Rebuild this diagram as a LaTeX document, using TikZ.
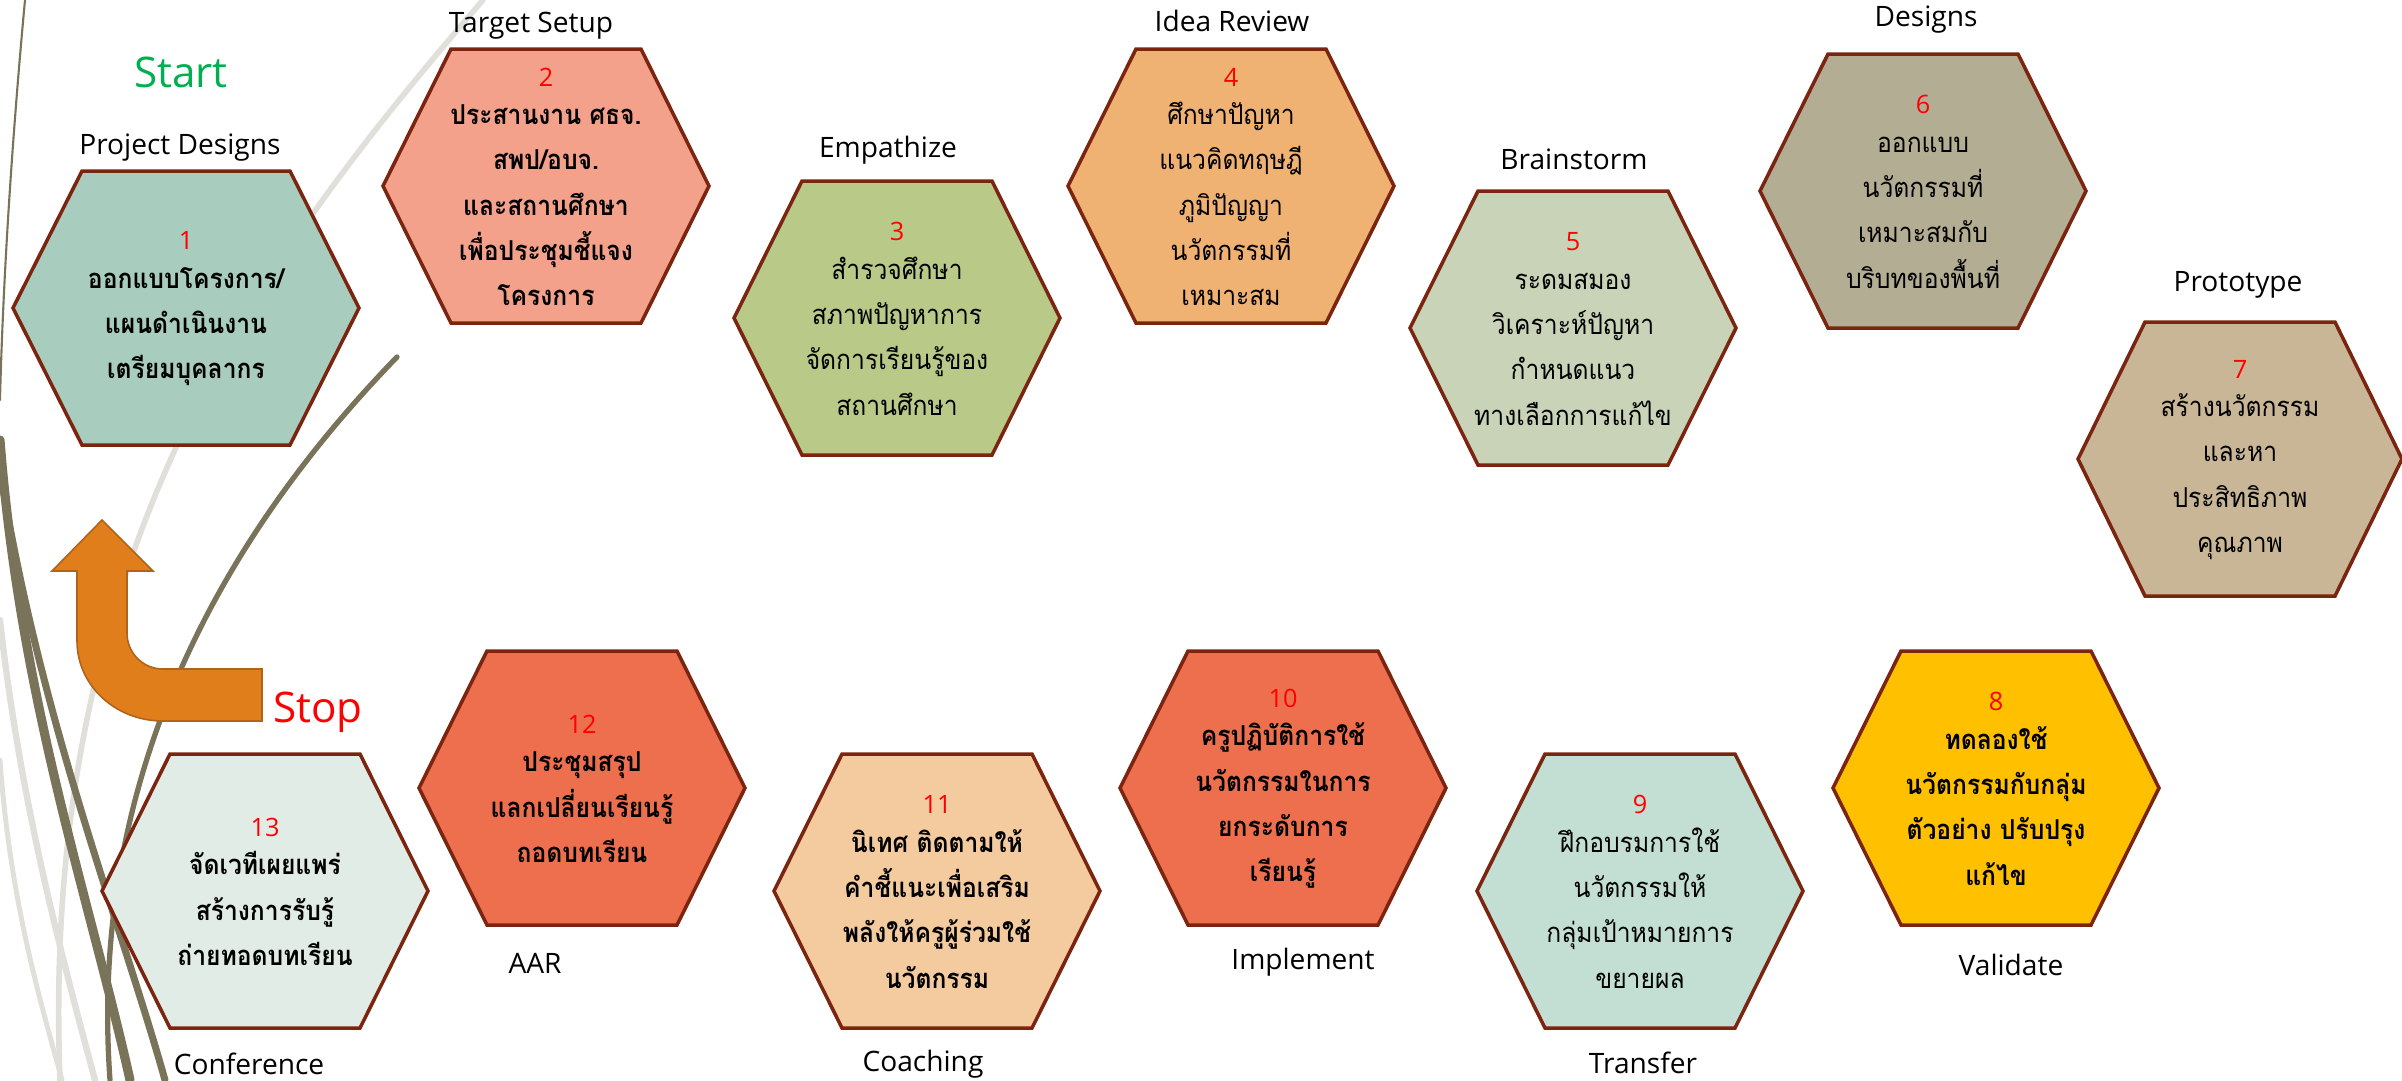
\documentclass[tikz,border=0pt]{standalone}
\usepackage{fontspec}
\setmainfont{Open Sans}
\newfontfamily\thaifont[Script=Thai, FakeStretch=0.9]{Loma}

\definecolor{edgecol}{HTML}{7B2511}
\definecolor{numred}{HTML}{FF0000}
\definecolor{startgreen}{HTML}{00B050}
\definecolor{olive}{HTML}{79735A}
\definecolor{wisp}{HTML}{E0DFD9}
\definecolor{arrowfill}{HTML}{DF7E1A}
\definecolor{arrowedge}{HTML}{B0631A}
\definecolor{cA}{HTML}{A8CDBF}
\definecolor{cB}{HTML}{F3A18A}
\definecolor{cC}{HTML}{B8C988}
\definecolor{cD}{HTML}{F0B273}
\definecolor{cE}{HTML}{C9D3B8}
\definecolor{cF}{HTML}{B3AD94}
\definecolor{cG}{HTML}{C8B696}
\definecolor{cH}{HTML}{FFC000}
\definecolor{cI}{HTML}{C3DFD4}
\definecolor{cJ}{HTML}{EE6F4D}
\definecolor{cK}{HTML}{F4CA9F}
\definecolor{cL}{HTML}{EE6F4D}
\definecolor{cM}{HTML}{E1ECE7}

\tikzset{
  hexshape/.style={draw=edgecol, line width=1pt, line join=miter},
  hextext/.style={align=center, text=black, inner sep=0pt,
    font=\thaifont\fontsize{7.8}{12.9}\selectfont},
  hexbold/.style={hextext, font=\thaifont\bfseries\fontsize{7.8}{12.9}\selectfont},
  steplabel/.style={text=black, inner sep=0pt, font=\fontsize{8}{10}\selectfont},
  bigword/.style={inner sep=0pt, font=\fontsize{12}{14}\selectfont},
  wispline/.style={draw=wisp, line cap=round},
  oliveline/.style={draw=olive, line cap=round},
}

% name, cx, cy, half width, half top edge, fill, text style, number, text
\newcommand\hexstep[9]{%
  \filldraw[hexshape, fill=#6] (#2-#4,#3) -- (#2-#5,#3-137) -- (#2+#5,#3-137)
    -- (#2+#4,#3) -- (#2+#5,#3+137) -- (#2-#5,#3+137) -- cycle;
  \node[#7] (#1) at (#2,#3+1) {{\normalfont\fontsize{7.2}{12.9}\selectfont\color{numred}#8}\\[-2pt]#9};
}

\begin{document}
\begin{tikzpicture}[x=0.1mm, y=-0.1mm]
\useasboundingbox (0,0) rectangle (2402,1080);

% background wisps
\draw[oliveline, line width=0.6pt] (25,0) .. controls (12,140) and (3,280) .. (0,400);
\draw[wispline, line width=1.6pt] (483,0) .. controls (250,270) and (40,560) .. (60,1080);
\draw[wispline, line width=1.8pt] (0,620) .. controls (20,800) and (60,950) .. (95,1080);
\draw[wispline, line width=1.4pt] (0,760) .. controls (10,900) and (40,1000) .. (62,1080);
\draw[oliveline, line width=2.6pt] (0,440) .. controls (20,700) and (90,900) .. (130,1080);
\draw[oliveline, line width=2pt] (0,470) .. controls (40,720) and (120,920) .. (165,1080);
\draw[oliveline, line width=1.5pt] (397,357) .. controls (200,560) and (90,800) .. (110,1080);

% hexagons
\hexstep{h1}{186}{308}{173}{104}{cA}{hexbold}{1}{ออกแบบโครงการ/\\แผนดำเนินงาน\\เตรียมบุคลากร}
\hexstep{h2}{546}{186}{163}{95}{cB}{hexbold}{2}{ประสานงาน ศธจ.\\สพป/อบจ.\\และสถานศึกษา\\เพื่อประชุมชี้แจง\\โครงการ}
\hexstep{h3}{897}{318}{163}{95}{cC}{hextext}{3}{สำรวจศึกษา\\สภาพปัญหาการ\\จัดการเรียนรู้ของ\\สถานศึกษา}
\hexstep{h4}{1231}{186}{163}{95}{cD}{hextext}{4}{ศึกษาปัญหา\\แนวคิดทฤษฎี\\ภูมิปัญญา\\นวัตกรรมที่\\เหมาะสม}
\hexstep{h5}{1573}{328}{163}{95}{cE}{hextext}{5}{ระดมสมอง\\วิเคราะห์ปัญหา\\กำหนดแนว\\ทางเลือกการแก้ไข}
\hexstep{h6}{1923}{191}{163}{95}{cF}{hextext}{6}{ออกแบบ\\นวัตกรรมที่\\เหมาะสมกับ\\บริบทของพื้นที่}
\hexstep{h7}{2240}{459}{162}{95}{cG}{hextext}{7}{สร้างนวัตกรรม\\และหา\\ประสิทธิภาพ\\คุณภาพ}
\hexstep{h8}{1996}{788}{163}{95}{cH}{hexbold}{8}{ทดลองใช้\\นวัตกรรมกับกลุ่ม\\ตัวอย่าง ปรับปรุง\\แก้ไข}
\hexstep{h9}{1640}{891}{163}{95}{cI}{hextext}{9}{ฝึกอบรมการใช้\\นวัตกรรมให้\\กลุ่มเป้าหมายการ\\ขยายผล}
\hexstep{h10}{1283}{788}{163}{95}{cJ}{hexbold}{10}{ครูปฏิบัติการใช้\\นวัตกรรมในการ\\ยกระดับการ\\เรียนรู้}
\hexstep{h11}{937}{891}{163}{95}{cK}{hexbold}{11}{นิเทศ ติดตามให้\\คำชี้แนะเพื่อเสริม\\พลังให้ครูผู้ร่วมใช้\\นวัตกรรม}
\hexstep{h12}{582}{788}{163}{95}{cL}{hexbold}{12}{ประชุมสรุป\\แลกเปลี่ยนเรียนรู้\\ถอดบทเรียน}
\hexstep{h13}{265}{891}{163}{95}{cM}{hexbold}{13}{จัดเวทีเผยแพร่\\สร้างการรับรู้\\ถ่ายทอดบทเรียน}

% return arrow
\filldraw[fill=arrowfill, draw=arrowedge, line width=0.45pt, line join=miter]
  (102,520) -- (153,571) -- (127,571) -- (127,633)
  .. controls (127,653) and (143,669) .. (163,669)
  -- (262,669) -- (262,721) -- (163,721)
  .. controls (115,721) and (77,685) .. (77,641)
  -- (77,571) -- (52,571) -- cycle;

% labels
\node[bigword, text=startgreen] (start) at (181,72) {Start};
\node[bigword, text=numred] (stop) at (318,712) {Stop};
\node[steplabel] (l1) at (180,148) {Project Designs};
\node[steplabel] (l2) at (531,26) {Target Setup};
\node[steplabel] (l3) at (888,150) {Empathize};
\node[steplabel] (l4) at (1232,21) {Idea Review};
\node[steplabel] (l5) at (1574,159) {Brainstorm};
\node[steplabel] (l6) at (1926,20) {Designs};
\node[steplabel] (l7) at (2238,285) {Prototype};
\node[steplabel] (l8) at (2011,965) {Validate};
\node[steplabel] (l9) at (1643,1063) {Transfer};
\node[steplabel] (l10) at (1303,962) {Implement};
\node[steplabel] (l11) at (923,1064) {Coaching};
\node[steplabel] (l12) at (535,963) {AAR};
\node[steplabel] (l13) at (249,1064) {Conference};
\end{tikzpicture}
\end{document}
